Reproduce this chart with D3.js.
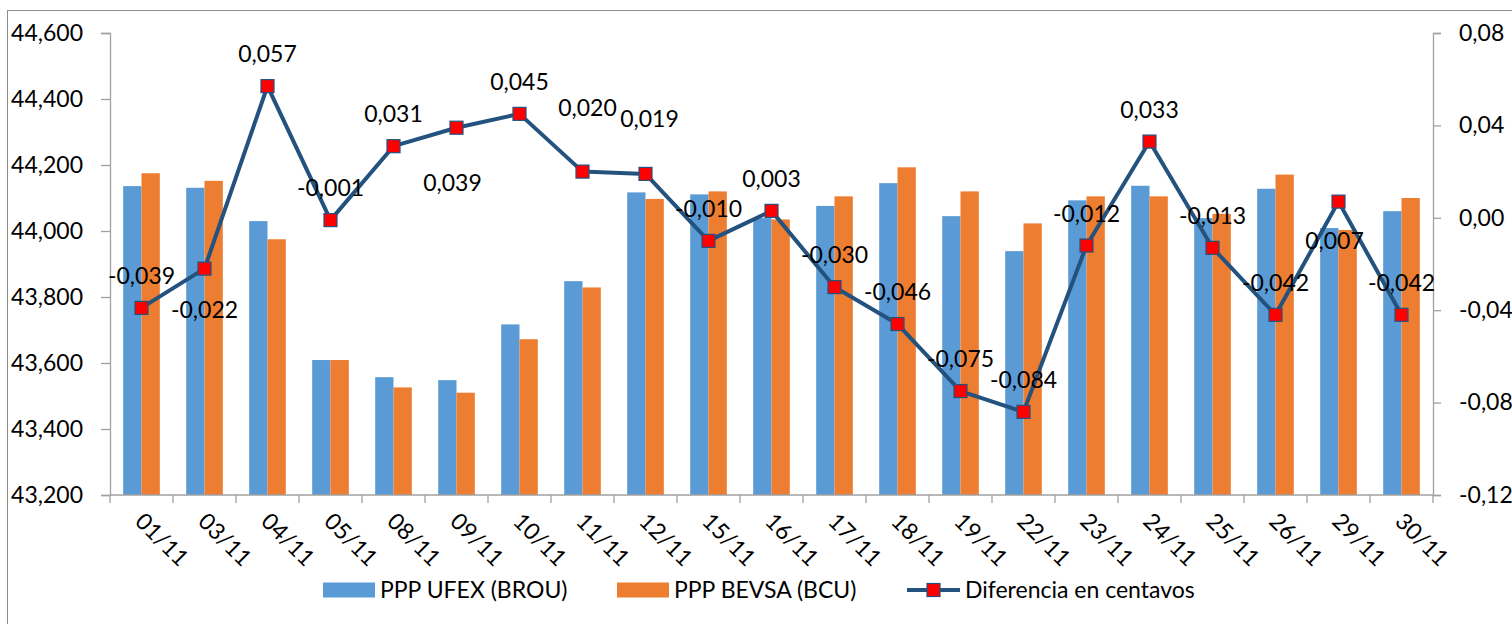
<!DOCTYPE html>
<html>
<head>
<meta charset="utf-8">
<script src="https://cdn.jsdelivr.net/npm/d3@7"></script>
<style>
  body { margin: 0; background: #fff; }
  svg { display: block; font-family: Lato, "Open Sans", sans-serif; }
</style>
</head>
<body>
<svg id="chart" width="1512" height="624"></svg>
<script>
// fechas del mes
var dates = ['01/11','03/11','04/11','05/11','08/11','09/11','10/11','11/11','12/11','15/11','16/11',
  '17/11','18/11','19/11','22/11','23/11','24/11','25/11','26/11','29/11','30/11'];

// PPP UFEX (BROU)
var ufex = [44136,44131,44030,43609,43557,43548,43717,43848,44117,44111,44039,
  44076,44145,44045,43939,44093,44137,44039,44128,44009,44060];

// PPP BEVSA (BCU)
var bevsa = [44175,44152,43975,43609,43526,43510,43672,43829,44097,44120,44035,
  44105,44193,44120,44023,44105,44105,44052,44171,44003,44100];

// Diferencia en centavos
var diff = [-0.039,-0.022,0.057,-0.001,0.031,0.039,0.045,0.020,0.019,-0.010,0.003,
  -0.030,-0.046,-0.075,-0.084,-0.012,0.033,-0.013,-0.042,0.007,-0.042];

var leftTicks = [43200,43400,43600,43800,44000,44200,44400,44600];
var rightTicks = [-0.12,-0.08,-0.04,0.00,0.04,0.08];

var seriesNames = ['PPP UFEX (BROU)', 'PPP BEVSA (BCU)', 'Diferencia en centavos'];

// label nudges (the excel labels were moved by hand on a few points)
var labelNudge = {'03/11': [0, 73], '09/11': [-4, 87], '11/11': [5, -32], '12/11': [4, -23], '29/11': [-4, 71]};

var colors = {ufex: '#5B9BD5', bevsa: '#ED7D31', line: '#24527F', marker: '#FF0000', axis: '#A0A0A0'};

var es = d3.formatLocale({decimal: ',', thousands: '.', grouping: [3], currency: ['', ''], minus: '-'});

var svg = d3.select('#chart');
var mLeft = 110, mRight = 1433, mTop = 33, mBottom = 495;

// outer frame
svg.append('rect')
  .attr('x', 7.5).attr('y', 10.5).attr('width', 1530).attr('height', 640)
  .attr('fill', 'none').attr('stroke', '#8c8c8c').attr('stroke-width', 1);

var x = d3.scaleBand().domain(dates).range([mLeft, mRight]).padding(0);
var xSub = d3.scaleBand().domain(['ufex', 'bevsa']).range([0, x.bandwidth()]).paddingInner(0).paddingOuter(0.72);
var yL = d3.scaleLinear().domain([43200, 44600]).range([mBottom, mTop]);
var yR = d3.scaleLinear().domain([-0.12, 0.08]).range([mBottom, mTop]);

// bars
var rows = dates.map(function(d, i) { return {date: d, ufex: ufex[i], bevsa: bevsa[i], diff: diff[i]}; });

var groups = svg.append('g').selectAll('g')
  .data(rows).enter().append('g')
  .attr('transform', function(d) { return 'translate(' + x(d.date) + ',0)'; });

groups.selectAll('rect')
  .data(function(d) { return [{k: 'ufex', v: d.ufex}, {k: 'bevsa', v: d.bevsa}]; })
  .enter().append('rect')
  .attr('x', function(d) { return xSub(d.k); })
  .attr('y', function(d) { return yL(d.v); })
  .attr('width', xSub.bandwidth())
  .attr('height', function(d) { return mBottom - yL(d.v); })
  .attr('fill', function(d) { return colors[d.k]; });

// axes
var axL = svg.append('g').attr('transform', 'translate(' + mLeft + ',0)')
  .call(d3.axisLeft(yL).tickValues(leftTicks).tickFormat(d3.format(',')).tickSizeOuter(0).tickSize(9).tickPadding(18));
var axR = svg.append('g').attr('transform', 'translate(' + mRight + ',0)')
  .call(d3.axisRight(yR).tickValues(rightTicks).tickFormat(es.format('.2f')).tickSizeOuter(0).tickSize(8).tickPadding(18));

[axL, axR].forEach(function(a) {
  a.selectAll('path, line').attr('stroke', colors.axis).attr('stroke-width', 1.3);
  a.selectAll('text').attr('font-size', 23).attr('fill', '#000').attr('font-family', 'Lato, sans-serif');
});

// x axis: ticks between categories
var xa = svg.append('g');
xa.append('line').attr('x1', mLeft).attr('x2', mRight).attr('y1', mBottom).attr('y2', mBottom)
  .attr('stroke', colors.axis).attr('stroke-width', 1.3);
xa.selectAll('.tk').data(dates.concat(['end'])).enter().append('line')
  .attr('class', 'tk')
  .attr('x1', function(d) { return d === 'end' ? mRight : x(d); })
  .attr('x2', function(d) { return d === 'end' ? mRight : x(d); })
  .attr('y1', mBottom).attr('y2', mBottom + 8)
  .attr('stroke', colors.axis).attr('stroke-width', 1.3);
xa.selectAll('.lb').data(dates).enter().append('text')
  .attr('class', 'lb')
  .attr('transform', function(d) { return 'translate(' + (x(d) + x.bandwidth() / 2 - 2) + ',' + (mBottom + 22) + ') rotate(45)'; })
  .attr('font-size', 23)
  .attr('dy', '0.35em')
  .text(function(d) { return d; });

// line series
var cx = function(d) { return x(d.date) + x.bandwidth() / 2; };
var line = d3.line().x(cx).y(function(d) { return yR(d.diff); });

svg.append('path').datum(rows)
  .attr('d', line)
  .attr('fill', 'none')
  .attr('stroke', colors.line)
  .attr('stroke-width', 4)
  .attr('stroke-linejoin', 'round');

svg.append('g').selectAll('rect')
  .data(rows).enter().append('rect')
  .attr('x', function(d) { return cx(d) - 6.5; })
  .attr('y', function(d) { return yR(d.diff) - 6.5; })
  .attr('width', 13).attr('height', 13)
  .attr('fill', colors.marker)
  .attr('stroke', colors.line).attr('stroke-width', 1.2);

// data labels
svg.append('g').selectAll('text')
  .data(rows).enter().append('text')
  .attr('x', function(d) { return cx(d) + (labelNudge[d.date] ? labelNudge[d.date][0] : 0); })
  .attr('y', function(d) { return yR(d.diff) - 32 + (labelNudge[d.date] ? labelNudge[d.date][1] : 0); })
  .attr('dy', '0.35em')
  .attr('text-anchor', 'middle')
  .attr('font-size', 23)
  .attr('fill', '#000')
  .text(function(d) { return es.format('.3f')(d.diff); });

// legend
var legend = svg.append('g').attr('transform', 'translate(0,590)');
var lx = [323, 617, 907];
legend.append('rect').attr('x', lx[0]).attr('y', -7.5).attr('width', 52).attr('height', 15).attr('fill', colors.ufex);
legend.append('rect').attr('x', lx[1]).attr('y', -7.5).attr('width', 52).attr('height', 15).attr('fill', colors.bevsa);
legend.append('line').attr('x1', lx[2]).attr('x2', lx[2] + 53).attr('y1', 0).attr('y2', 0)
  .attr('stroke', colors.line).attr('stroke-width', 4);
legend.append('rect').attr('x', lx[2] + 20).attr('y', -6.5).attr('width', 13).attr('height', 13)
  .attr('fill', colors.marker).attr('stroke', colors.line).attr('stroke-width', 1.2);
legend.selectAll('text').data(seriesNames).enter().append('text')
  .attr('x', function(d, i) { return lx[i] + (i === 2 ? 58 : 57); })
  .attr('y', 0).attr('dy', '0.35em')
  .attr('font-size', 23)
  .text(function(d) { return d; });
</script>
</body>
</html>
